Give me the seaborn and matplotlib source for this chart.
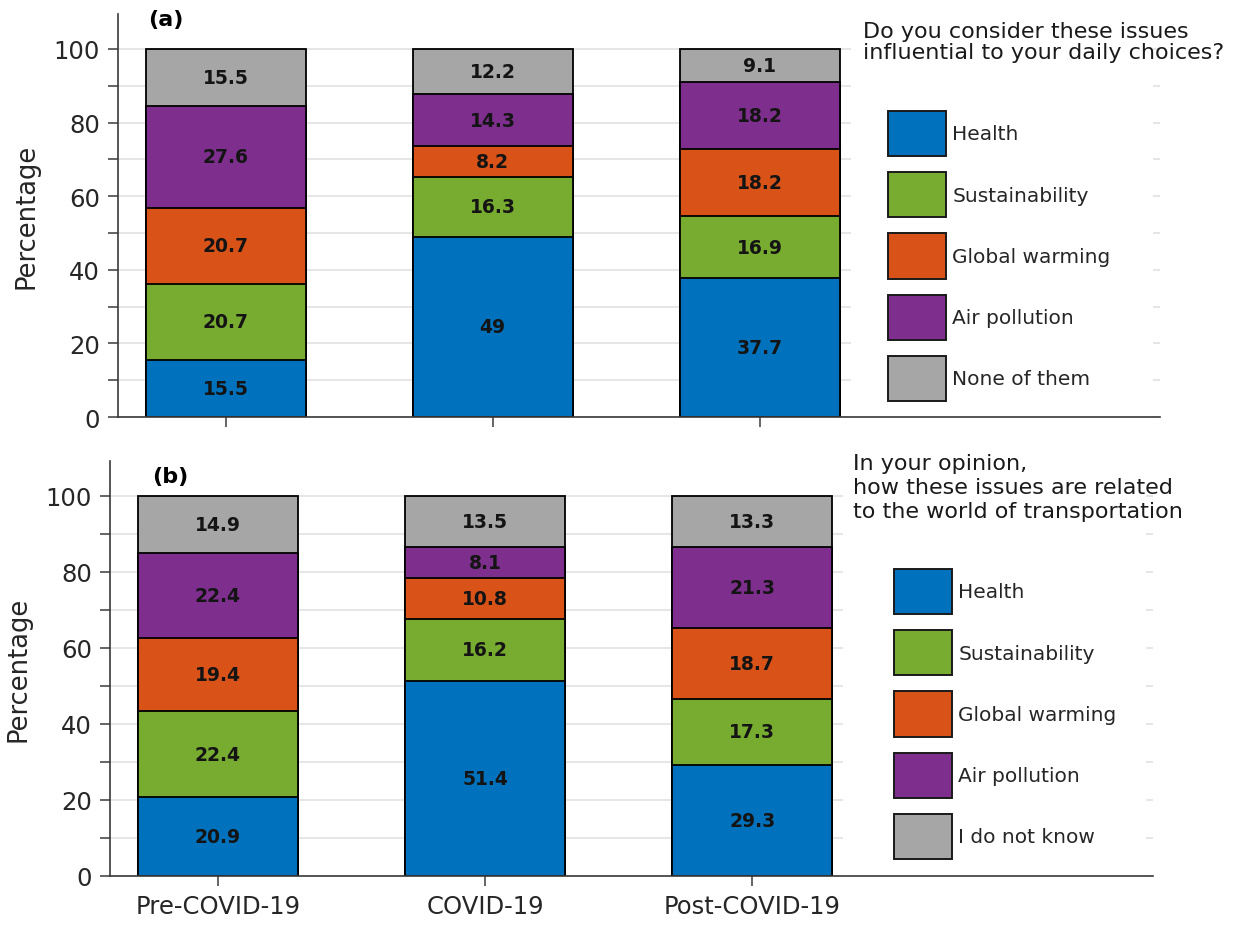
import matplotlib
matplotlib.use("Agg")
import matplotlib.pyplot as plt
from matplotlib.patches import Patch, Rectangle
from matplotlib.ticker import MultipleLocator
import numpy as np
import pandas as pd
import seaborn as sns

# ---- data -------------------------------------------------------------
periods = ["Pre-COVID-19", "COVID-19", "Post-COVID-19"]

issues_a = ["Health", "Sustainability", "Global warming", "Air pollution", "None of them"]
health_a = [15.5, 49.0, 37.7]
sustain_a = [20.7, 16.3, 16.9]
warming_a = [20.7, 8.2, 18.2]
air_a = [27.6, 14.3, 18.2]
none_a = [15.5, 12.2, 9.1]

issues_b = ["Health", "Sustainability", "Global warming", "Air pollution", "I do not know"]
health_b = [20.9, 51.4, 29.3]
sustain_b = [22.4, 16.2, 17.3]
warming_b = [19.4, 10.8, 18.7]
air_b = [22.4, 8.1, 21.3]
unknown_b = [14.9, 13.5, 13.3]

question_a = "Do you consider these issues\ninfluential to your daily choices?"
question_b = "In your opinion,\nhow these issues are related\nto the world of transportation"

colors = ["#0072BD", "#77AC30", "#D95319", "#7E2F8E", "#A6A6A6"]


def long_table(issues, series):
    rows = []
    for issue, vals in zip(issues, series):
        for p, v in zip(periods, vals):
            rows.append({"period": p, "issue": issue, "value": v})
    df = pd.DataFrame(rows)
    df["issue"] = pd.Categorical(df["issue"], categories=issues, ordered=True)
    df = df.sort_values(["period", "issue"])
    df["top"] = df.groupby("period", observed=True)["value"].cumsum()
    df["mid"] = df["top"] - df["value"] / 2
    return df


df_a = long_table(issues_a, [health_a, sustain_a, warming_a, air_a, none_a])
df_b = long_table(issues_b, [health_b, sustain_b, warming_b, air_b, unknown_b])

# ---- style ------------------------------------------------------------
sns.set_style("ticks")
plt.rcParams["font.family"] = ["DejaVu Sans"]
ink = "#262626"

fig = plt.figure(figsize=(12.5, 9.29), dpi=100)
W, H = 1250, 929
ax_a = fig.add_axes([118 / W, 1 - 418 / H, (1160 - 118) / W, (418 - 15) / H])
ax_b = fig.add_axes([110 / W, 1 - 877 / H, (1153 - 110) / W, (877 - 462) / H])


def stacked(ax, df, issues, ymax, show_xlabels):
    palette = dict(zip(issues, colors))
    # taller cumulative bars first so each segment sits on the one below
    sns.barplot(data=df, x="period", y="top", hue="issue",
                hue_order=issues[::-1], order=periods, palette=palette,
                dodge=False, width=0.6, errorbar=None, legend=False,
                edgecolor="black", linewidth=1.3, saturation=1, ax=ax)
    xpos = {p: i for i, p in enumerate(periods)}
    for _, r in df.iterrows():
        ax.text(xpos[r["period"]], r["mid"], f"{r['value']:g}",
                ha="center", va="center", fontsize=13.5, fontweight="bold",
                color="#141414", zorder=5)

    ax.set_xlim(-0.404, 3.5)
    ax.set_ylim(0, ymax)
    ax.yaxis.set_major_locator(MultipleLocator(20))
    ax.yaxis.set_minor_locator(MultipleLocator(10))
    ax.set_axisbelow(True)
    ax.yaxis.grid(True, which="both", color="#e2e2e2", linewidth=1.2)
    ax.xaxis.grid(False)
    for s in ["top", "right"]:
        ax.spines[s].set_visible(False)
    for s in ["left", "bottom"]:
        ax.spines[s].set_color("#3a3a3a")
        ax.spines[s].set_linewidth(1.2)
    ax.tick_params(axis="both", which="both", direction="out", length=7,
                   width=1.1, color="#3a3a3a", labelsize=17.5,
                   labelcolor=ink, pad=6)
    ax.set_xlabel("")
    ax.set_ylabel("Percentage", fontsize=18.5, color=ink, labelpad=10)
    if not show_xlabels:
        ax.tick_params(axis="x", labelbottom=False)

    # white panel behind the legend area
    ax.add_patch(Rectangle((0.703, 0.0), 0.29, 1.0, transform=ax.transAxes,
                           facecolor="white", edgecolor="none", zorder=0.8))


stacked(ax_a, df_a, issues_a, 109.5, False)
stacked(ax_b, df_b, issues_b, 109.2, True)

ax_a.text(0.029, 0.988, "(a)", transform=ax_a.transAxes, ha="left",
          va="center", fontsize=16, fontweight="bold", color="black")
ax_b.text(0.040, 0.964, "(b)", transform=ax_b.transAxes, ha="left",
          va="center", fontsize=16, fontweight="bold", color="black")


def add_legend(ax, issues, anchor):
    handles = [Patch(facecolor=c, edgecolor="#1a1a1a", linewidth=1.4)
               for c in colors]
    ax.legend(handles, issues, loc="upper left", bbox_to_anchor=anchor,
              bbox_transform=fig.transFigure, frameon=False, borderpad=0,
              borderaxespad=0, fontsize=14.5, handlelength=2.9,
              handleheight=3.07, labelspacing=0.8, handletextpad=0.3)


add_legend(ax_a, issues_a, (888 / W, 1 - 112 / H))
add_legend(ax_b, issues_b, (894 / W, 1 - 570 / H))

fig.text(863 / W, 1 - 22 / H, question_a, ha="left", va="top",
         fontsize=16, linespacing=1.05, color="#1a1a1a")
fig.text(853 / W, 1 - 454 / H, question_b, ha="left", va="top",
         fontsize=16, linespacing=1.24, color="#1a1a1a")

fig.savefig("out.png", dpi=100, facecolor="white")
